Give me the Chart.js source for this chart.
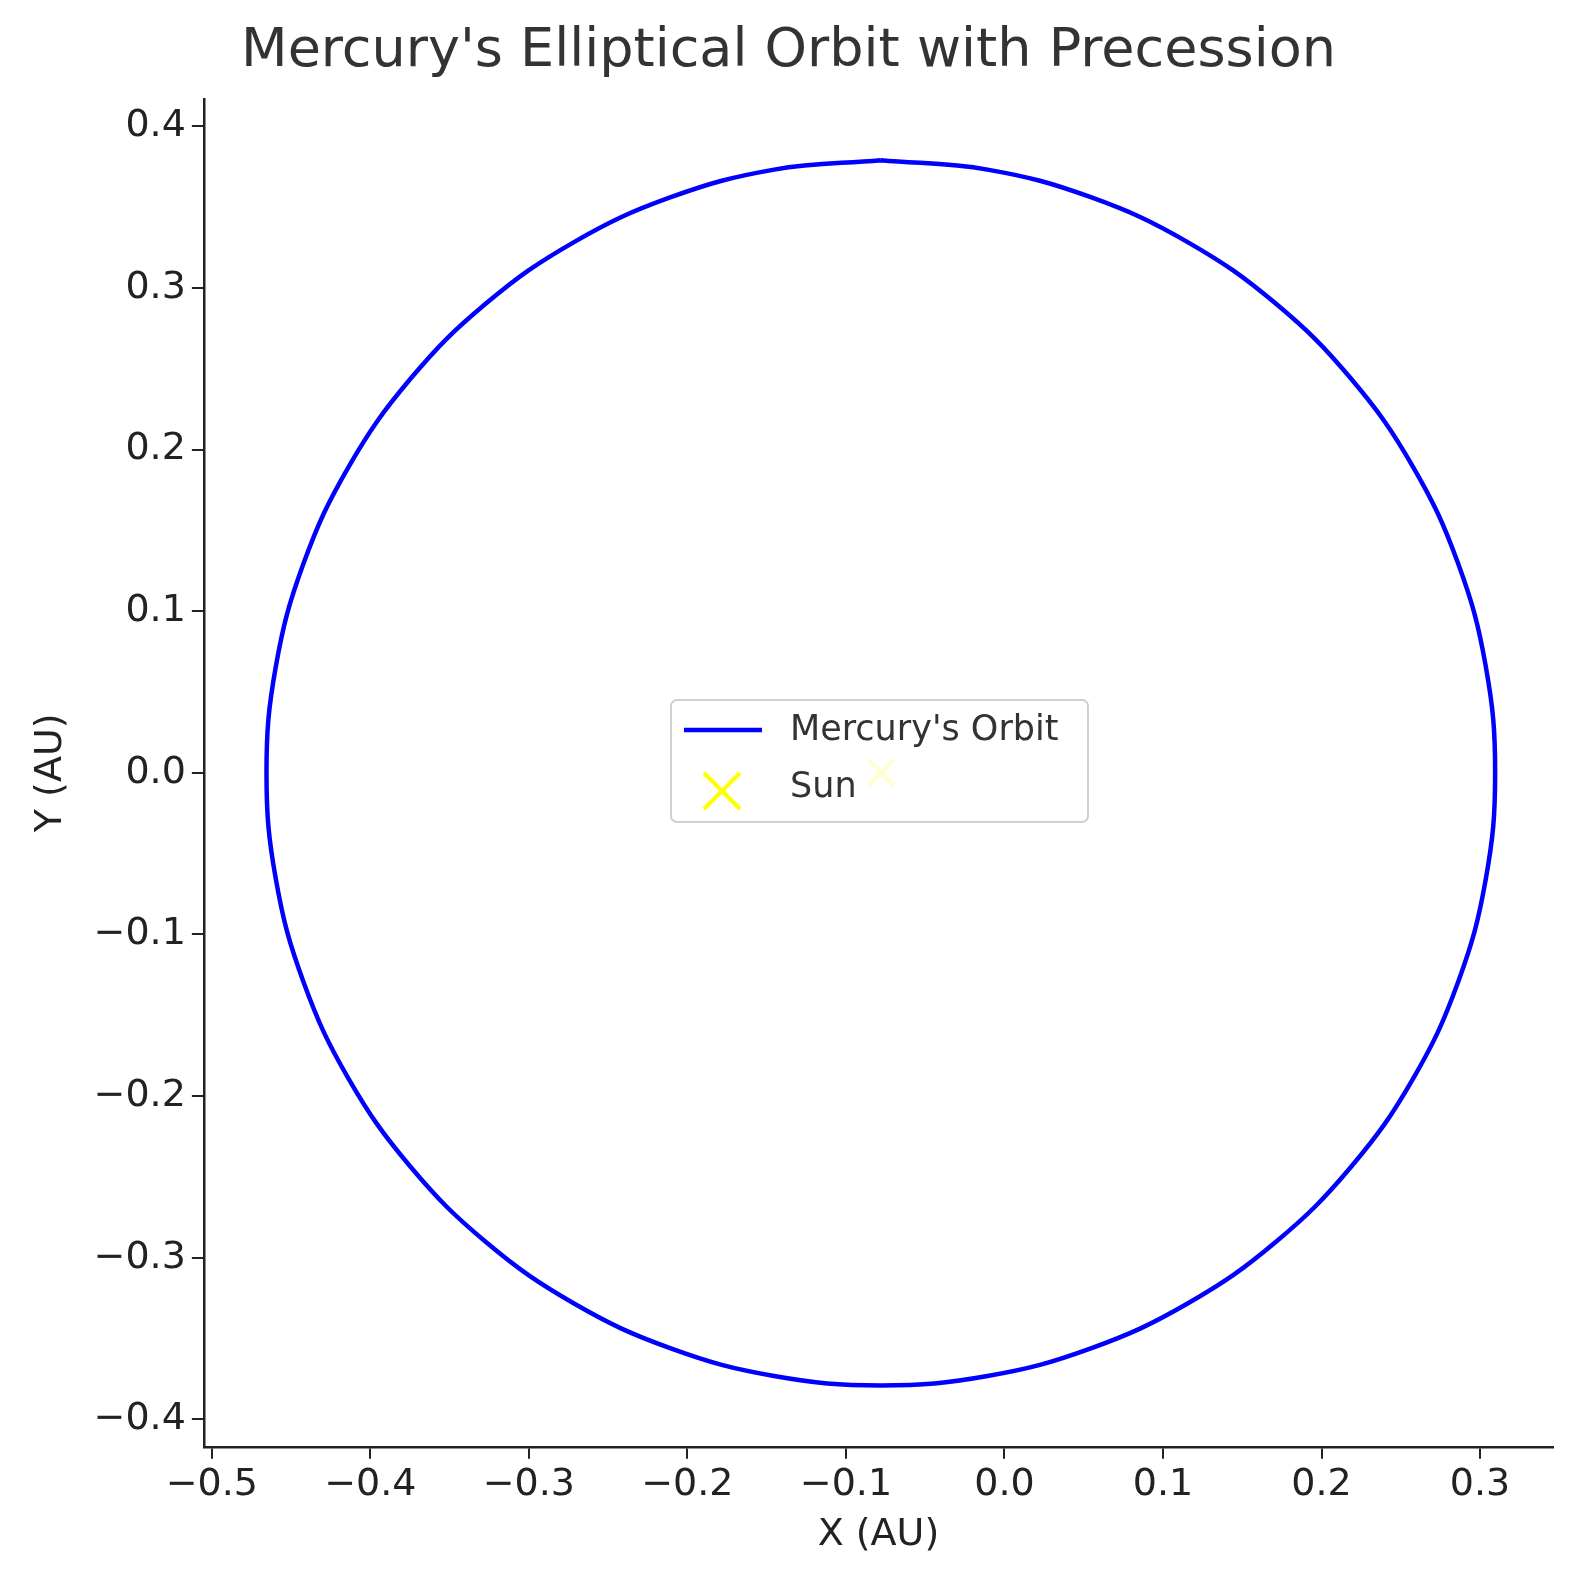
<!DOCTYPE html>
<html><head><meta charset="utf-8">
<script src="https://cdn.jsdelivr.net/npm/chart.js@4"></script>
<style>html,body{margin:0;padding:0;background:#fff}</style>
</head><body>
<canvas id="c" width="1583" height="1576"></canvas>
<script>
const orbitX = [-0.078,-0.1453,-0.2105,-0.2718,-0.3271,-0.3748,-0.4136,-0.4421,-0.4596,-0.4655,-0.4596,-0.4421,-0.4136,-0.3748,-0.3271,-0.2718,-0.2105,-0.1453,-0.078,-0.0107,0.0545,0.1158,0.1711,0.2188,0.2576,0.2861,0.3036,0.3095,0.3036,0.2861,0.2576,0.2188,0.1711,0.1158,0.0545,-0.0107,-0.078];
const orbitY = [0.379,0.3732,0.3561,0.3282,0.2903,0.2436,0.1895,0.1296,0.0658,0,-0.0658,-0.1296,-0.1895,-0.2436,-0.2903,-0.3282,-0.3561,-0.3732,-0.379,-0.3732,-0.3561,-0.3282,-0.2903,-0.2436,-0.1895,-0.1296,-0.0658,0,0.0658,0.1296,0.1895,0.2436,0.2903,0.3282,0.3561,0.3732,0.379];
const sunX = [-0.078], sunY = [0];
const xTicks = [-0.5,-0.4,-0.3,-0.2,-0.1,0.0,0.1,0.2,0.3];
const yTicks = [-0.4,-0.3,-0.2,-0.1,0.0,0.1,0.2,0.3,0.4];
const fmt = v => (v < -1e-9 ? '\u2212' : '') + Math.abs(v).toFixed(1);
const F = 'DejaVu Sans';
const legendPlugin = {
  id:'lg',
  afterDatasetsDraw(ch){
    const c = ch.ctx; c.save();
    c.fillStyle='rgba(255,255,255,0.8)'; c.strokeStyle='#d0d0d0'; c.lineWidth=2;
    c.beginPath(); c.roundRect(671,700,417,122,6); c.fill(); c.stroke();
    c.strokeStyle='#0000ff'; c.lineWidth=4.5; c.beginPath(); c.moveTo(684,730); c.lineTo(762,730); c.stroke();
    c.strokeStyle='#ffff00'; c.lineWidth=4; c.beginPath();
    c.moveTo(704,773);c.lineTo(740,809);c.moveTo(740,773);c.lineTo(704,809); c.stroke();
    c.fillStyle='#333'; c.font='35px '+F; c.textBaseline='middle';
    c.fillText("Mercury's Orbit",790,731); c.fillText('Sun',790,788);
    c.restore();
  }
};
new Chart(document.getElementById('c'),{
  type:'scatter',
  data:{datasets:[
    {label:"Mercury's Orbit",data:orbitX.map((x,i)=>({x,y:orbitY[i]})),showLine:true,tension:0.4,borderColor:'#0000ff',borderWidth:4.5,pointRadius:0,fill:false},
    {label:'Sun',data:sunX.map((x,i)=>({x,y:sunY[i]})),pointStyle:'crossRot',pointRadius:18,borderColor:'#ffff00',borderWidth:4,pointBackgroundColor:'#ffff00'}
  ]},
  options:{
    responsive:false,devicePixelRatio:1,animation:false,
    layout:{padding:{left:24,right:30,top:4,bottom:14}},
    plugins:{legend:{display:false},tooltip:{enabled:false},
      title:{display:true,text:"Mercury's Elliptical Orbit with Precession",color:'#333',font:{family:F,size:54,weight:'normal'},padding:{top:16,bottom:14}}},
    scales:{
      x:{type:'linear',min:-0.505,max:0.346,afterBuildTicks:s=>{s.ticks=xTicks.map(v=>({value:v}))},
        ticks:{callback:fmt,color:'#222',font:{family:F,size:38},padding:4,maxRotation:0,autoSkip:false},
        grid:{drawOnChartArea:false,drawTicks:true,tickLength:12,color:'#222',lineWidth:2},
        border:{color:'#222',width:2.5},
        title:{display:true,text:'X (AU)',color:'#222',font:{family:F,size:38},padding:{top:0}}},
      y:{type:'linear',min:-0.417,max:0.417,afterBuildTicks:s=>{s.ticks=yTicks.map(v=>({value:v}))},
        ticks:{callback:fmt,color:'#222',font:{family:F,size:38},padding:6,autoSkip:false},
        grid:{drawOnChartArea:false,drawTicks:true,tickLength:12,color:'#222',lineWidth:2},
        border:{color:'#222',width:2.5},
        title:{display:true,text:'Y (AU)',color:'#222',font:{family:F,size:38},padding:{bottom:14}}}
    }
  },
  plugins:[legendPlugin]
});
</script></body></html>
